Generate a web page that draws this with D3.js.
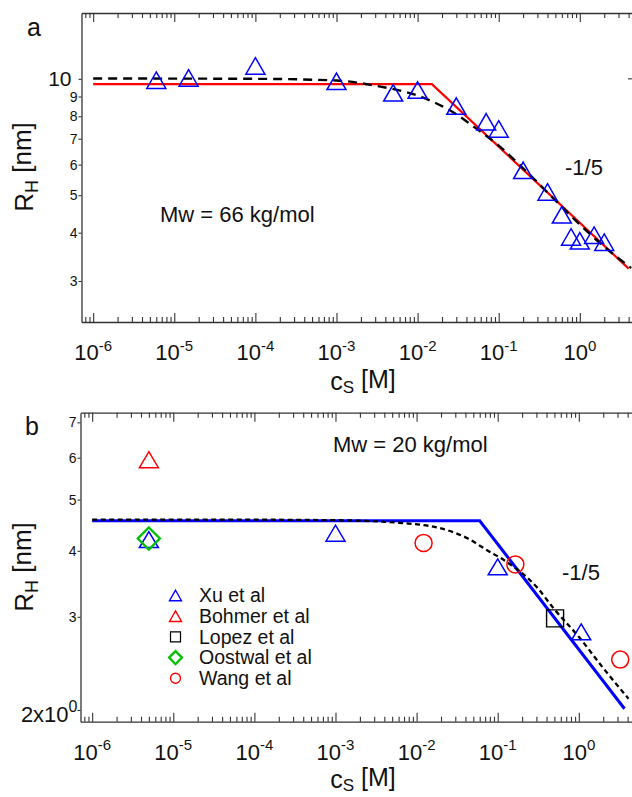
<!DOCTYPE html>
<html><head><meta charset="utf-8">
<script src="https://cdn.jsdelivr.net/npm/d3@7"></script>
<style>
body{margin:0;background:#fff}
svg text{font-family:"Liberation Sans",Arial,Helvetica,sans-serif;fill:#111}
</style>
</head><body>
<svg id="c" width="632" height="797"></svg>
<script>
// ---------- data ----------
// Panel a (Mw = 66 kg/mol), Xu et al
const aXuC = [6e-6, 1.5e-5, 1e-4, 1e-3, 5e-3, 1e-2, 0.03, 0.07, 0.1, 0.2, 0.4, 0.6, 0.78, 1.0, 1.5, 2.0];
const aXuR = [9.92, 10.05, 10.8, 9.85, 9.2, 9.35, 8.5, 7.74, 7.42, 5.8, 5.1, 4.45, 3.9, 3.81, 3.94, 3.78];
// Panel a scaling line (red, solid)
const aLineC = [1e-6, 0.015, 4.0];
const aLineR = [9.69, 9.69, 3.23];
// Panel a crossover curve (black, dashed)
const aDashC = [1e-6, 1e-4, 1e-3, 3e-3, 1e-2, 2e-2, 3e-2, 5e-2, 0.1, 0.2, 0.5, 1, 2, 4.3];
const aDashR = [10.02, 10.0, 9.9, 9.6, 9.05, 8.5, 8.1, 7.5, 6.72, 5.87, 4.85, 4.2, 3.68, 3.24];

// Panel b (Mw = 20 kg/mol)
const bXuC = [5e-6, 1e-3, 0.1, 1.07];
const bXuR = [4.2, 4.32, 3.73, 2.81];
const bBohmerC = [5e-6];
const bBohmerR = [5.95];
const bLopezC = [0.51];
const bLopezR = [2.98];
const bOostwalC = [5e-6];
const bOostwalR = [4.22];
const bWangC = [0.0122, 0.165, 3.24];
const bWangR = [4.14, 3.77, 2.49];
const bLineC = [1e-6, 0.06, 3.66];
const bLineR = [4.56, 4.56, 2.01];
const bDashC = [1e-6, 1e-4, 1e-3, 6e-3, 0.02, 0.043, 0.074, 0.12, 0.3, 0.5, 1, 2, 4.1];
const bDashR = [4.58, 4.58, 4.57, 4.52, 4.41, 4.22, 4.01, 3.84, 3.42, 3.1, 2.75, 2.4, 2.1];

// tick values
const xMajor = [1e-6, 1e-5, 1e-4, 1e-3, 1e-2, 1e-1, 1e0];
const xExp = ["-6", "-5", "-4", "-3", "-2", "-1", "0"];
const aYTicks = [3, 4, 5, 6, 7, 8, 9, 10];
const bYTicks = [2, 3, 4, 5, 6, 7];
const legendNames = ["Xu et al", "Bohmer et al", "Lopez et al", "Oostwal et al", "Wang et al"];

// ---------- drawing ----------
const svg = d3.select("#c");
svg.append("rect").attr("width", 632).attr("height", 797).attr("fill", "#fff");

const zip = (c, r) => c.map((v, i) => [v, r[i]]);
const xMinor = [];
for (let e = -7; e <= 0; e++) for (let m = 2; m <= 9; m++) {
  const v = m * Math.pow(10, e);
  if (v > 7.2e-7 && v < 5.0) xMinor.push(v);
}

const axisCol = "#333";

function triPath(w, h) { return `M0,${-h/2}L${w/2},${h/2}L${-w/2},${h/2}Z`; }
function diaPath(s) { return `M0,${-s/2}L${s/2},0L0,${s/2}L${-s/2},0Z`; }

function drawPanel(o) {
  const { x, y, top, bottom, left } = o;
  const g = svg.append("g");
  g.append("g").attr("transform", `translate(0,${bottom})`)
    .call(d3.axisBottom(x).tickValues(xMajor).tickSize(-9).tickSizeOuter(0).tickFormat(""));
  g.append("g").attr("transform", `translate(0,${bottom})`)
    .call(d3.axisBottom(x).tickValues(xMinor).tickSize(-5).tickSizeOuter(0).tickFormat(""))
    .select(".domain").remove();
  g.append("g").attr("transform", `translate(0,${top})`)
    .call(d3.axisTop(x).tickValues(xMajor).tickSize(-9).tickSizeOuter(0).tickFormat(""));
  g.append("g").attr("transform", `translate(0,${top})`)
    .call(d3.axisTop(x).tickValues(xMinor).tickSize(-5).tickSizeOuter(0).tickFormat(""))
    .select(".domain").remove();
  xMajor.forEach((v, i) => {
    const t = g.append("text").attr("x", x(v)).attr("y", bottom + 38)
      .attr("text-anchor", "middle").attr("font-size", 22);
    t.append("tspan").text("10");
    t.append("tspan").attr("dy", "-0.62em").attr("font-size", 15).text(xExp[i]);
  });
  const lAx = g.append("g").attr("transform", `translate(${left},0)`)
    .call(d3.axisLeft(y).tickValues(o.yTicks).tickSize(3).tickPadding(1).tickSizeOuter(0).tickFormat(d3.format("d")));
  lAx.selectAll("text").attr("font-size", 14).attr("fill", "#111")
    .style("font-family", '"Liberation Sans",Arial,sans-serif');
  if (o.yCustom) o.yCustom(lAx);
  g.selectAll(".domain").attr("stroke", axisCol).attr("stroke-width", 1.3);
  g.selectAll(".tick line").attr("stroke", axisCol).attr("stroke-width", 1.1);
  return g;
}

const line = (x, y) => d3.line().x(d => x(d[0])).y(d => y(d[1]));

function xLabel(yBase) {
  const t = svg.append("text").attr("x", 363).attr("y", yBase).attr("text-anchor", "middle").attr("font-size", 25);
  t.append("tspan").text("c");
  t.append("tspan").attr("font-size", 17).attr("dy", "0.2em").text("S");
  t.append("tspan").attr("dy", "-0.2em").text(" [M]");
}
function yLabel(cy) {
  const t = svg.append("text").attr("transform", `translate(33,${cy}) rotate(-90)`)
    .attr("text-anchor", "middle").attr("font-size", 26);
  t.append("tspan").text("R");
  t.append("tspan").attr("font-size", 18).attr("dy", "0.28em").text("H");
  t.append("tspan").attr("dy", "-0.28em").text(" [nm]");
}

// ===== Panel a =====
const xA = d3.scaleLog().domain([7.18e-7, 5.0]).range([81.5, 636.5]);
const yA = d3.scaleLog().domain([2.35, 14.8]).range([322, 13]);
drawPanel({
  x: xA, y: yA, top: 13, bottom: 322, left: 81.5, yTicks: aYTicks,
  yCustom: ax => {
    ax.selectAll(".tick").filter(d => d === 10).select("text")
      .attr("font-size", 21).attr("x", -10);
  }
});
svg.append("line").attr("x1", 628).attr("x2", 632).attr("y1", yA(10)).attr("y2", yA(10))
  .attr("stroke", axisCol).attr("stroke-width", 1.1);

svg.append("path").datum(zip(aLineC, aLineR)).attr("d", line(xA, yA))
  .attr("fill", "none").attr("stroke", "#ff0000").attr("stroke-width", 2.2);
svg.append("path").datum(zip(aDashC, aDashR)).attr("d", line(xA, yA).curve(d3.curveMonotoneX))
  .attr("fill", "none").attr("stroke", "#000").attr("stroke-width", 2.4).attr("stroke-dasharray", "9,6");
svg.append("g").selectAll("path").data(zip(aXuC, aXuR)).join("path")
  .attr("transform", d => `translate(${xA(d[0])},${yA(d[1])})`)
  .attr("d", triPath(19, 16.5)).attr("fill", "none").attr("stroke", "#0000ff").attr("stroke-width", 1.5);

svg.append("text").attr("x", 27).attr("y", 36).attr("font-size", 25).text("a");
svg.append("text").attr("x", 160).attr("y", 221.7).attr("font-size", 22).text("Mw = 66 kg/mol");
svg.append("text").attr("x", 565).attr("y", 175).attr("font-size", 22).text("-1/5");
yLabel(167);
xLabel(390);

// ===== Panel b =====
const xB = d3.scaleLog().domain([7.18e-7, 5.0]).range([80.5, 635.5]);
const yB = d3.scaleLog().domain([1.90, 7.30]).range([721.7, 412.7]);
drawPanel({
  x: xB, y: yB, top: 412.7, bottom: 721.7, left: 80.5, yTicks: bYTicks,
  yCustom: ax => {
    const t = ax.selectAll(".tick").filter(d => d === 2).select("text");
    t.text(null).attr("font-size", 22).attr("x", -3).attr("dy", null).attr("y", 11.5);
    t.append("tspan").text("2x10");
    t.append("tspan").attr("dy", "-0.62em").attr("font-size", 16).text("0");
  }
});

svg.append("path").datum(zip(bLineC, bLineR)).attr("d", line(xB, yB))
  .attr("fill", "none").attr("stroke", "#0000ff").attr("stroke-width", 3);
svg.append("path").datum(zip(bDashC, bDashR)).attr("d", line(xB, yB).curve(d3.curveMonotoneX))
  .attr("fill", "none").attr("stroke", "#000").attr("stroke-width", 2.3).attr("stroke-dasharray", "5,3.5");

const mk = (c, r, shape, col, sw) => svg.append("g").selectAll("path").data(zip(c, r)).join("path")
  .attr("transform", d => `translate(${xB(d[0])},${yB(d[1])})`)
  .attr("d", shape).attr("fill", "none").attr("stroke", col).attr("stroke-width", sw);
mk(bXuC, bXuR, triPath(19, 16), "#0000ff", 1.5);
mk(bBohmerC, bBohmerR, triPath(19, 16), "#ff0000", 1.5);
mk(bLopezC, bLopezR, "M-8.5,-8.5H8.5V8.5H-8.5Z", "#000", 1.4);
mk(bOostwalC, bOostwalR, diaPath(22), "#00c000", 2.4);
mk(bWangC, bWangR, d3.symbol(d3.symbolCircle, Math.PI * 8.5 * 8.5)(), "#ff0000", 1.5);

const legY0 = 595.5, legDy = 20.7, legX = 175.5;
const legShapes = [triPath(12, 10.5), triPath(12, 10.5), "M-5,-5H5V5H-5Z", diaPath(13), d3.symbol(d3.symbolCircle, Math.PI * 25)()];
const legCols = ["#0000ff", "#ff0000", "#000", "#00c000", "#ff0000"];
const legSW = [1.4, 1.4, 1.2, 2.2, 1.4];
legendNames.forEach((n, i) => {
  const yy = legY0 + i * legDy;
  svg.append("path").attr("transform", `translate(${legX},${yy})`).attr("d", legShapes[i])
    .attr("fill", "none").attr("stroke", legCols[i]).attr("stroke-width", legSW[i]);
  svg.append("text").attr("x", 199).attr("y", yy + 6.8).attr("font-size", 19.5).text(n);
});

svg.append("text").attr("x", 25).attr("y", 435).attr("font-size", 25).text("b");
svg.append("text").attr("x", 333).attr("y", 451.7).attr("font-size", 22).text("Mw = 20 kg/mol");
svg.append("text").attr("x", 562).attr("y", 580).attr("font-size", 22).text("-1/5");
yLabel(567);
xLabel(788);
</script>
</body></html>
